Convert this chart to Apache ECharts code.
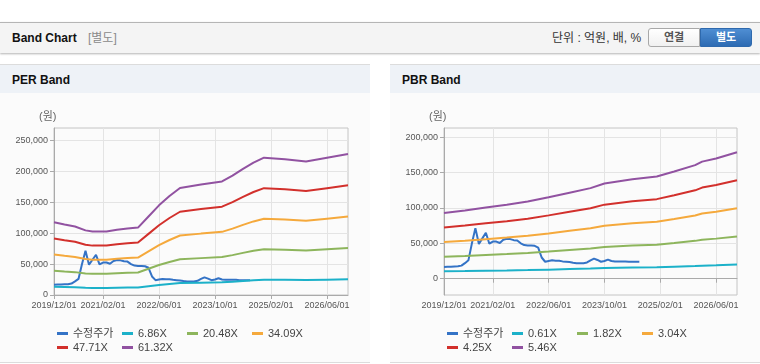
<!DOCTYPE html>
<html><head><meta charset="utf-8">
<script src="https://cdn.jsdelivr.net/npm/echarts@6/dist/echarts.min.js"></script>
<style>
body{margin:0;width:760px;height:364px;overflow:hidden;background:#fff;font-family:"Liberation Sans","Noto Sans CJK KR",sans-serif;position:relative}
.abs{position:absolute}
#hdr{left:0;top:22px;width:760px;height:30px;border-top:1px solid #b5b5b5;background:#f4f4f4;box-shadow:0 1px 2px rgba(0,0,0,0.3)}
.panel{top:64px;width:370px;height:297px;border-top:1px solid #dcdcdc;border-bottom:1px solid #dcdcdc;background:#fbfbfb}
.ptitle{left:0;top:0;width:370px;height:28px;background:#eef2f7}
.t{white-space:nowrap;line-height:14px}
.btn{top:28px;height:17px;width:50px;text-align:center;font-size:11px;font-weight:bold;line-height:17px}
#chart{left:0;top:0;width:760px;height:364px}
</style></head><body>
<div id="hdr" class="abs"></div>
<div class="abs t" style="left:12px;top:31px;font-size:12px;font-weight:bold;color:#111">Band Chart</div>
<div class="abs t" style="left:88px;top:31px;font-size:12px;color:#8a8a8a">[별도]</div>
<div class="abs t" style="left:552px;top:31px;font-size:12px;color:#333">단위 : 억원, 배, %</div>
<div class="abs btn" style="left:648px;border:1px solid #a8a8a8;border-radius:3px 0 0 3px;background:linear-gradient(#ffffff,#f0f0f0);color:#555">연결</div>
<div class="abs btn" style="left:700px;border:1px solid #2e69ad;border-radius:0 3px 3px 0;background:linear-gradient(#4f8ed3,#2d6bb3);color:#fff">별도</div>
<div class="abs panel" style="left:0"><div class="abs ptitle"></div></div>
<div class="abs panel" style="left:390px"><div class="abs ptitle"></div></div>
<div class="abs t" style="left:12px;top:73px;font-size:12px;font-weight:bold;color:#111">PER Band</div>
<div class="abs t" style="left:402px;top:73px;font-size:12px;font-weight:bold;color:#111">PBR Band</div>
<div id="chart" class="abs"></div>
<script>
// ---- data ----
const categories = [];
for (let y = 2019, m = 12; y < 2027; ) {
  categories.push(y + '/' + String(m).padStart(2, '0') + '/01');
  if (y === 2026 && m === 12) break;
  m++; if (m > 12) { m = 1; y++; }
}
const xTickLabels = ['2019/12/01','2021/02/01','2022/06/01','2023/10/01','2025/02/01','2026/06/01'];
const perTicks = [0, 50000, 100000, 150000, 200000, 250000];
const pbrTicks = [0, 50000, 100000, 150000, 200000];

const price = [16500,16800,17000,17300,17500,18500,22000,26000,50000,71500,49000,57000,65000,49500,52500,52500,50500,55000,56500,56000,54500,54000,50000,47500,47000,47000,46500,44000,30000,24000,25000,26000,25500,25500,24500,24000,23500,22500,22000,22000,22000,23000,26000,28500,26500,24000,25000,27000,25000,24500,24500,24500,24500,24000,24000,24000,24000];

const perNames = ['6.86X','20.48X','34.09X','47.71X','61.32X'];
const perDates = ['2019/12/01','2020/03/01','2020/06/01','2020/09/01','2020/11/01','2021/03/01','2021/06/01','2021/09/01','2021/12/01','2022/03/01','2022/06/01','2022/09/01','2022/12/01','2023/06/01','2023/12/01','2024/03/01','2024/06/01','2024/09/01','2024/12/01','2025/06/01','2025/12/01','2026/06/01','2026/12/01'];
const per686 = [13145,12753,12384,11690,11478,11500,11802,12026,12194,14207,16221,17899,19354,19969,20539,21591,22821,23940,24835,24555,24164,24835,25506];
const per2048 = [39244,38075,36973,34902,34267,34334,35236,35904,36405,42417,48429,53438,57780,59617,61321,64460,68134,71474,74146,73311,72142,74146,76150];
const per3409 = [65323,63377,61543,58096,57039,57151,58652,59764,60597,70604,80611,88950,96178,99235,102071,107296,113412,118971,123419,122029,120083,123419,126754];
const per4771 = [91421,88698,86130,81306,79828,79984,82084,83640,84807,98812,112817,124488,134603,138882,142850,150164,158722,166503,172727,170782,168059,172727,177395];
const per6132 = [117500,114000,110700,104500,102600,102800,105500,107500,109000,127000,145000,160000,173000,178500,183600,193000,204000,214000,222000,219500,216000,222000,228000];

const pbrNames = ['0.61X','1.82X','3.04X','4.25X','5.46X'];
const pbrDates = ['2019/12/01','2020/06/01','2020/12/01','2021/06/01','2021/12/01','2022/06/01','2022/12/01','2023/06/01','2023/10/01','2024/06/01','2025/01/01','2025/06/01','2025/12/01','2026/02/01','2026/06/01','2026/12/01'];
const pbr061 = [10390,10781,11228,11675,12177,12848,13574,14300,15026,15697,16144,16926,17931,18490,18992,19975];
const pbr182 = [31000,32167,33500,34833,36333,38333,40500,42667,44833,46833,48167,50500,53500,55167,56667,59600];
const pbr304 = [51781,53729,55956,58184,60689,64030,67649,71268,74887,78228,80455,84352,89363,92147,94653,99552];
const pbr425 = [72390,75115,78228,81342,84845,89515,94574,99634,104693,109364,112477,117926,124932,128823,132326,139176];
const pbr546 = [93000,96500,100500,104500,109000,115000,121500,128000,134500,140500,144500,151500,160500,165500,170000,178800];

const colors = ['#3473c6','#1cb1c9','#8db55c','#f5a93c','#d2302c','#9152a1'];

// ---- build ----
const FONT = '"Liberation Sans","Noto Sans CJK KR",sans-serif';
const showTick = (i, v) => xTickLabels.includes(v);
const fmt = v => String(v).replace(/\B(?=(\d{3})+(?!\d))/g, ',');
function xAxis(gi) {
  return {
    type: 'category', gridIndex: gi, data: categories, boundaryGap: false,
    axisLine: { lineStyle: { color: '#aaa' } },
    axisTick: { interval: showTick, length: 4, lineStyle: { color: '#aaa' } },
    axisLabel: { interval: showTick, fontSize: 9, color: '#555', margin: 6, fontFamily: FONT },
    splitLine: { show: true, interval: showTick, lineStyle: { color: '#e4e4e4' } }
  };
}
function yAxis(gi, min, max, ticks) {
  return {
    type: 'value', gridIndex: gi, min: min, max: max,
    axisLine: { show: true, lineStyle: { color: '#aaa' } },
    axisTick: { show: true, length: 4, customValues: ticks, lineStyle: { color: '#aaa' } },
    axisLabel: { customValues: ticks, formatter: fmt, fontSize: 9, color: '#555', margin: 6, fontFamily: FONT },
    splitLine: { show: true, lineStyle: { color: '#e4e4e4' } }
  };
}
function line(name, data, color, gi) {
  return { type: 'line', name: name, data: data, xAxisIndex: gi, yAxisIndex: gi, symbol: 'none',
    lineStyle: { width: 2, color: color }, itemStyle: { color: color } };
}
const pairs = (dates, vals) => dates.map((d, i) => [d, vals[i]]);
const series = [line('수정주가', price, colors[0], 0)];
[per686, per2048, per3409, per4771, per6132].forEach((a, i) => series.push(line(perNames[i], pairs(perDates, a), colors[i + 1], 0)));
series.push(line('수정주가', price, colors[0], 1));
[pbr061, pbr182, pbr304, pbr425, pbr546].forEach((a, i) => series.push(line(pbrNames[i], pairs(pbrDates, a), colors[i + 1], 1)));

// one legend component per item, laid out in a 4-column grid
const legends = [];
function addLegend(base, names) {
  ['수정주가'].concat(names).forEach((n, k) => {
    legends.push({ left: base + (k % 4) * 65, top: 323 + Math.floor(k / 4) * 14,
      itemWidth: 11, itemHeight: 3, icon: 'rect', selectedMode: false, data: [n],
      textStyle: { fontSize: 11, color: '#444', fontFamily: FONT } });
  });
}
addLegend(52, perNames);
addLegend(442, pbrNames);

const chart = echarts.init(document.getElementById('chart'));
chart.setOption({
  animation: false,
  color: colors,
  grid: [
    { left: 54, top: 128, width: 294, height: 167, show: true, borderColor: '#c4c4c4', borderWidth: 1, backgroundColor: 'transparent' },
    { left: 444, top: 128, width: 293, height: 167, show: true, borderColor: '#c4c4c4', borderWidth: 1, backgroundColor: 'transparent' }
  ],
  xAxis: [xAxis(0), xAxis(1)],
  yAxis: [yAxis(0, 0, 270000, perTicks), yAxis(1, -23000, 213000, pbrTicks)],
  legend: legends,
  graphic: [
    { type: 'text', left: 39, top: 111, style: { text: '(원)', fontSize: 11, fill: '#666', fontFamily: FONT } },
    { type: 'text', left: 429, top: 111, style: { text: '(원)', fontSize: 11, fill: '#666', fontFamily: FONT } }
  ],
  series: series
});
</script>
</body></html>
